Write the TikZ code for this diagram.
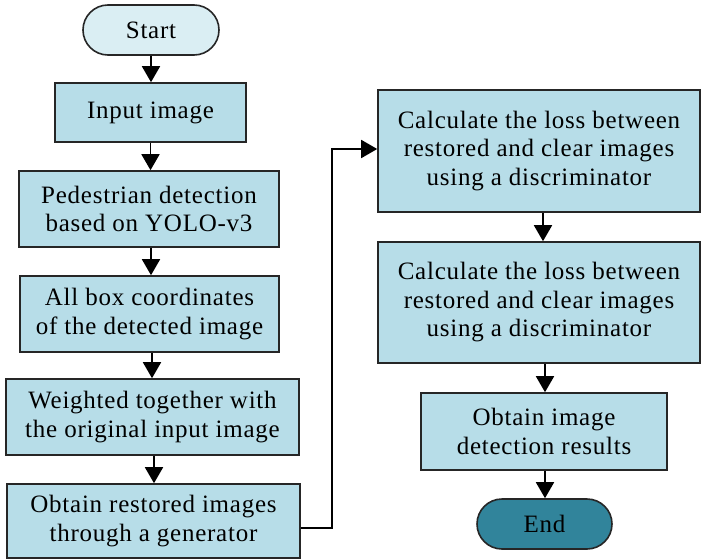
\documentclass[tikz,border=0pt]{standalone}
\usepackage{fontspec}
\setmainfont{Liberation Serif}[LetterSpace=3]
\usetikzlibrary{arrows.meta}
\definecolor{boxfill}{HTML}{B7DDE8}
\definecolor{startfill}{HTML}{DAEEF3}
\definecolor{endfill}{HTML}{31849B}
\tikzset{
  stepbox/.style={draw=black!85, line width=1.6pt, fill=boxfill, align=center,
    inner sep=0pt, font=\fontsize{25}{28.5}\selectfont},
  termbox/.style={stepbox, rounded corners=25pt},
  flow/.style={line width=1.8pt, -{Triangle[width=18pt,length=16pt]}}
}
\begin{document}
\begin{tikzpicture}[x=1pt,y=-1pt]
\useasboundingbox (0,0) rectangle (701,559);
\node[termbox, fill=startfill, minimum width=136pt, minimum height=50pt] (start) at (151,30) {Start};
\node[stepbox, minimum width=191pt, minimum height=59pt] (input) at (150.5,112.5) {Input image};
\node[stepbox, minimum width=260pt, minimum height=76pt] (ped) at (149,209) {Pedestrian detection\\based on YOLO-v3};
\node[stepbox, minimum width=259pt, minimum height=76pt] (coords) at (149.5,314) {All box coordinates\\of the detected image};
\node[stepbox, minimum width=293pt, minimum height=76pt] (weighted) at (152.5,417) {Weighted together with\\the original input image};
\node[stepbox, minimum width=293pt, minimum height=74pt] (restored) at (153.5,521) {Obtain restored images\\through a generator};
\node[stepbox, minimum width=322pt, minimum height=122pt] (calcA) at (539,151) {Calculate the loss between\\restored and clear images\\using a discriminator};
\node[stepbox, minimum width=322pt, minimum height=121pt] (calcB) at (539,302.5) {Calculate the loss between\\restored and clear images\\using a discriminator};
\node[stepbox, minimum width=246pt, minimum height=77pt] (result) at (544,431.5) {Obtain image\\detection results};
\node[termbox, fill=endfill, minimum width=135pt, minimum height=50pt] (end) at (544.5,524) {End};

% vertical connectors, each dropped straight down from the upper box
\draw[flow] ([xshift=0pt]start.south) -- (start.south |- input.north);
\draw[flow] (input.south) -- (input.south |- ped.north);
\draw[flow] ([xshift=2pt]ped.south) -- ([xshift=2pt]ped.south |- coords.north);
\draw[flow] ([xshift=2.5pt]coords.south) -- ([xshift=2.5pt]coords.south |- weighted.north);
\draw[flow] ([xshift=1.5pt]weighted.south) -- ([xshift=1.5pt]weighted.south |- restored.north);
\draw[flow] ([yshift=-7pt]restored.east) -- ++(31,0) |- ([yshift=2pt]calcA.west);
\draw[flow] ([xshift=4pt]calcA.south) -- ([xshift=4pt]calcA.south |- calcB.north);
\draw[flow] ([xshift=6pt]calcB.south) -- ([xshift=6pt]calcB.south |- result.north);
\draw[flow] ([xshift=1pt]result.south) -- ([xshift=1pt]result.south |- end.north);
\end{tikzpicture}
\end{document}
